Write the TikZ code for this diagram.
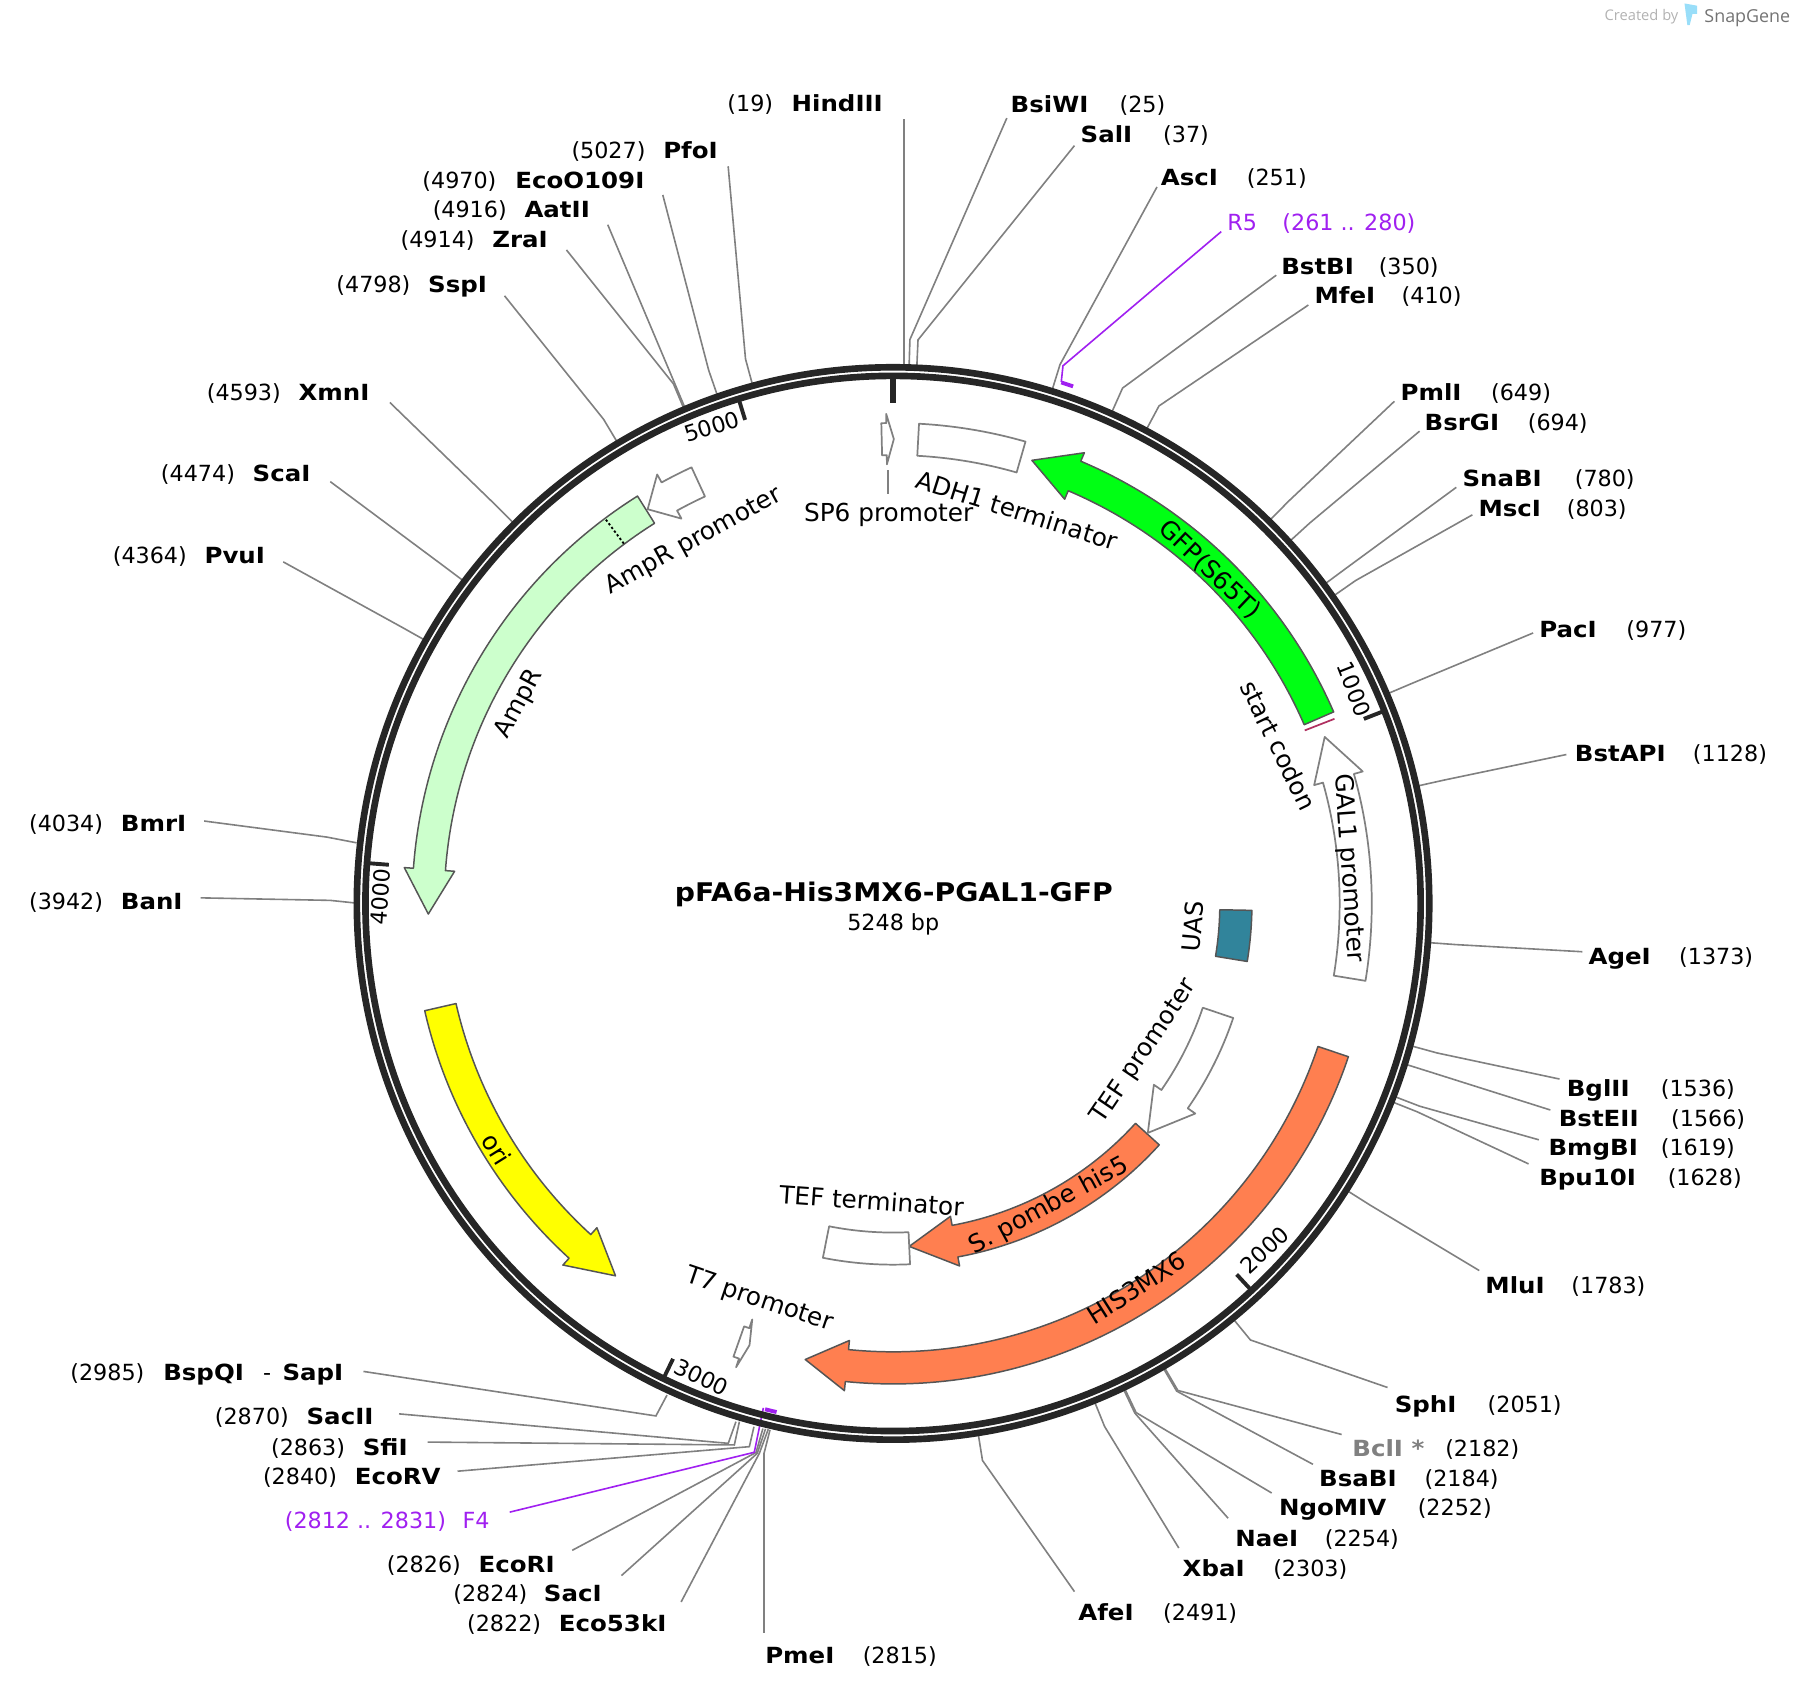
\documentclass[tikz,border=0pt]{standalone}
\usepackage{fontspec}
\setmainfont{DejaVu Sans}[BoldFeatures={FakeStretch=1.1}]
\newfontfamily\logofont{Open Sans}
\usetikzlibrary{arrows.meta}
\definecolor{ringgray}{RGB}{38,38,38}
\definecolor{leadgray}{RGB}{128,128,128}
\definecolor{edgegray}{RGB}{85,85,85}
\definecolor{primerpurple}{RGB}{160,32,240}
\definecolor{codonmaroon}{RGB}{176,48,96}
\definecolor{amprgreen}{RGB}{204,255,204}
\definecolor{gfpgreen}{RGB}{0,255,20}
\definecolor{oriyellow}{RGB}{255,255,0}
\definecolor{coral}{RGB}{255,127,80}
\definecolor{uasteal}{RGB}{49,132,155}
\tikzset{
  plasmid/.style={shift={(778.8,787.9)}},
  enz/.style={anchor=base west,inner sep=0pt,font=\fontsize{9.7}{11}\selectfont\bfseries},
  posn/.style={anchor=base west,inner sep=0pt,font=\fontsize{9.7}{11}\selectfont},
  lead/.style={draw=leadgray,line width=0.7pt},
  primer/.style={draw=primerpurple,line width=0.7pt},
  feature/.style={draw=edgegray,line width=0.65pt,line join=round},
  blank/.style={draw=leadgray,line width=0.75pt,fill=white,line join=round},
  lab/.style={inner sep=0pt,font=\fontsize{10.8}{12}\selectfont},
  numlab/.style={inner sep=0pt,font=\fontsize{9.7}{11}\selectfont},
  scalemark/.style={draw=ringgray,line width=1.7pt},
}
% site with its line leaving the ring along the radius
\newcommand{\site}[7]{%
  \pgfmathsetmacro{\ang}{#6/5248*360-90}
  \node[enz] (#1) at (#2,#4+7) {#5};
  \node[posn] (#1pos) at (#3,#4+7) {(#6)};
  \coordinate (#1end) at #7;
  \coordinate (#1bend) at ([plasmid]\ang:492);
  \coordinate (#1ring) at ([plasmid]\ang:469);
  \draw[lead] (#1end) -- (#1bend) -- (#1ring);
}
% same, for the crowded ones: bend and ring point given
\newcommand{\sitexy}[9]{%
  \node[enz] (#1) at (#2,#4+7) {#5};
  \node[posn] (#1pos) at (#3,#4+7) {(#6)};
  \coordinate (#1end) at #7;
  \coordinate (#1bend) at #8;
  \coordinate (#1ring) at #9;
  \draw[lead] (#1end) -- (#1bend) -- (#1ring);
}
% start, back of head, tip (degrees from the top), mid radius, look
\newcommand{\gene}[5]{%
  \draw[#5] ({#1-90}:{#4+14}) arc[start angle={#1-90},end angle={#2-90},radius={#4+14}]
    -- ({#2-90}:{#4+22}) -- ({#3-90}:#4) -- ({#2-90}:{#4-22}) -- ({#2-90}:{#4-14})
    arc[start angle={#2-90},end angle={#1-90},radius={#4-14}] -- cycle;
}
\newcommand{\block}[4]{%
  \draw[#4] ({#1-90}:{#3+14}) arc[start angle={#1-90},end angle={#2-90},radius={#3+14}]
    -- ({#2-90}:{#3-14}) arc[start angle={#2-90},end angle={#1-90},radius={#3-14}] -- cycle;
}
\begin{document}
\begin{tikzpicture}[x=0.5pt,y=-0.5pt]
    \useasboundingbox (0,0) rectangle (1568,1475.5);
    % logo
    \node[anchor=base west,inner sep=0pt,text=black!30,font=\logofont\fontsize{6.4}{8}\selectfont] (createdby) at (1399,18) {Created by};
    \node[anchor=base west,inner sep=0pt,text=black!55,font=\logofont\fontsize{7.8}{10}\selectfont] (snapgene) at (1486,20) {SnapGene};
    \fill[cyan!40] (1469,3) -- (1480,5) -- (1480,12) -- (1476,12) -- (1473.5,22) -- (1471.5,22) -- cycle;
    % top, clockwise
    \sitexy{hindIII}{690}{634}{90}{HindIII}{19}{(788.4,104)}{(788.4,296)}{(788.4,320)}
    \site{bsiWI}{881}{976}{91}{BsiWI}{25}{(878,103)}
    \site{salI}{942}{1014}{117}{SalI}{37}{(937,127)}
    \site{ascI}{1012}{1087}{155}{AscI}{251}{(1009,163)}
    \site{bstBI}{1117}{1202}{232}{BstBI}{350}{(1113,240)}
    \site{mfeI}{1146}{1222}{258}{MfeI}{410}{(1141,266)}
    \site{pmlI}{1221}{1300}{342}{PmlI}{649}{(1216,350)}
    \site{bsrGI}{1242}{1332}{368}{BsrGI}{694}{(1238,376)}
    \site{snaBI}{1275}{1373}{417}{SnaBI}{780}{(1270,425)}
    \site{mscI}{1289}{1366}{443}{MscI}{803}{(1284,449)}
    \site{pacI}{1342}{1418}{549}{PacI}{977}{(1337,552)}
    \site{bstAPI}{1373}{1476}{657}{BstAPI}{1128}{(1366,658)}
    \site{ageI}{1385}{1464}{834}{AgeI}{1373}{(1380,830)}
    \site{bglII}{1366}{1448}{949}{BglII}{1536}{(1360,941)}
    \site{bstEII}{1359}{1457}{975}{BstEII}{1566}{(1352,968)}
    \site{bmgBI}{1350}{1448}{1001}{BmgBI}{1619}{(1342,994)}
    \site{bpuI}{1342}{1454}{1027}{Bpu10I}{1628}{(1333,1015)}
    \site{mluI}{1295}{1370}{1121}{MluI}{1783}{(1290,1108)}
    \site{sphI}{1216}{1297}{1225}{SphI}{2051}{(1210,1210)}
    \site{bclI}{1179}{1260}{1263}{\textcolor{leadgray}{BclI *}}{2182}{(1170,1251)}
    \site{bsaBI}{1150}{1242}{1289}{BsaBI}{2184}{(1145,1277)}
    \site{ngoMIV}{1115}{1236}{1315}{NgoMIV}{2252}{(1109,1302)}
    \site{naeI}{1077}{1155}{1342}{NaeI}{2254}{(1071,1324)}
    \site{xbaI}{1031}{1110}{1368}{XbaI}{2303}{(1028,1350)}
    \site{afeI}{940}{1014}{1406}{AfeI}{2491}{(937,1388)}
    % the crowd at the bottom
    \sitexy{pmeI}{667}{752}{1444}{PmeI}{2815}{(666.3,1424)}{(666.3,1267.4)}{(671.5,1247)}
    \sitexy{ecoFiveThree}{487}{407}{1416}{Eco53kI}{2822}{(594,1397)}{(662.2,1267.4)}{(670,1246.4)}
    \sitexy{sacI}{474}{395}{1390}{SacI}{2824}{(542,1374)}{(660.4,1267.4)}{(667.6,1246)}
    \sitexy{ecoRI}{417}{337}{1364}{EcoRI}{2826}{(499,1352)}{(659.3,1266.7)}{(665.3,1245.8)}
    \sitexy{ecoRV}{309}{229}{1288}{EcoRV}{2840}{(399,1283)}{(653.5,1261.6)}{(657.5,1244.2)}
    \sitexy{sfiI}{316}{236}{1262}{SfiI}{2863}{(373,1257.6)}{(640.4,1260.1)}{(644.8,1239.8)}
    \sitexy{sacII}{267}{187}{1235}{SacII}{2870}{(348,1233)}{(635.1,1258.7)}{(641.8,1239.8)}
    \sitexy{bspQI}{142}{61}{1197}{BspQI}{2985}{(317,1196)}{(572,1234.8)}{(581.7,1216.6)}
    \node[posn] (dashsap) at (229,1204) {-};
    \node[enz] (sapI) at (246,1204) {SapI};
    % left side
    \sitexy{banI}{105}{25}{786}{BanI}{3942}{(175,783)}{(288,785.2)}{(310,787.5)}
    \sitexy{bmrI}{105}{25}{718}{BmrI}{4034}{(178,716)}{(285,730)}{(311,735)}
    \site{pvuI}{178}{98}{484}{PvuI}{4364}{(247,490)}
    \site{scaI}{220}{140}{413}{ScaI}{4474}{(288,420)}
    \site{xmnI}{260}{180}{342}{XmnI}{4593}{(340,351)}
    \site{sspI}{373}{293}{248}{SspI}{4798}{(440,258)}
    \site{zraI}{429}{349}{209}{ZraI}{4914}{(494,218)}
    \site{aatII}{457}{377}{183}{AatII}{4916}{(530,196)}
    \site{ecoO}{449}{368}{157}{EcoO109I}{4970}{(578,170)}
    \site{pfoI}{578}{498}{131}{PfoI}{5027}{(635,145)}
    % primers
    \node[posn,text=primerpurple] (rfive) at (1070,201) {R5};
    \node[posn,text=primerpurple] (rfivepos) at (1118,201) {(261 .. 280)};
    \coordinate (rfiveend) at (1065,202);
    \coordinate (rfivebend) at (927,319);
    \coordinate (rfivebar) at (925.5,333);
    \draw[primer] (rfiveend) -- (rfivebend) -- (rfivebar);
    \node[posn,text=primerpurple] (ffour) at (403,1333) {F4};
    \node[posn,text=primerpurple] (ffourpos) at (248,1333) {(2812 .. 2831)};
    \coordinate (ffourend) at (444.5,1318.7);
    \coordinate (ffourbend) at (657.8,1266.5);
    \coordinate (ffourbar) at (665.7,1227.8);
    \draw[primer] (ffourend) -- (ffourbend) -- (ffourbar);
    \begin{scope}[plasmid]
        \draw[primerpurple,line width=1.7pt] (-72.1:477.5) arc[start angle=-72.1,end angle=-70.8,radius=477.5];
        \draw[primerpurple,line width=1.7pt] (102.9:455) arc[start angle=102.9,end angle=104.2,radius=455];
        % backbone
        \draw[ringgray,line width=2.9pt] (0,0) circle[radius=467.6];
        \draw[ringgray,line width=2.9pt] (0,0) circle[radius=460.1];
        \draw[scalemark,line width=2.6pt] (-90:458) -- (-90:436.5);
        \foreach \p in {1000,2000,3000,4000,5000} {
            \pgfmathsetmacro{\ang}{\p/5248*360-90}
            \draw[scalemark] (\ang:458) -- (\ang:441);
        }
        % outer track
        \gene{66.5}{23}{17.4}{405}{feature,fill=gfpgreen}
        \block{3.1}{16}{405}{blank}
        \gene{-1.4}{-0.8}{0.1}{405}{blank}
        \gene{99.3}{74.3}{68.9}{403.5}{blank}
        \gene{108.6}{185.7}{190.9}{405}{feature,fill=coral}
        \gene{199.4}{198.7}{198}{405}{blank}
        \gene{-102.9}{-137.6}{-143.3}{405}{feature,fill=oriyellow}
        \gene{-32.1}{-85.8}{-91.3}{405.4}{feature,fill=amprgreen}
        \gene{-24.8}{-28.8}{-31.9}{405}{blank}
        \draw[black,line width=0.8pt,dash pattern=on 1pt off 1pt] (-126.8:392) -- (-126.8:418);
        % inner track
        \gene{132.2}{169.6}{177.3}{299.4}{feature,fill=coral}
        \gene{108.6}{124.8}{132}{299}{blank}
        \block{177.3}{191.2}{301}{blank}
        \block{91.1}{99.3}{299}{feature,fill=uasteal}
        % start codon
        \draw[codonmaroon,line width=0.75pt] (-22.8:389.5) -- (-22.7:417.3);
    \end{scope}
    \coordinate (spsixtop) at (774.6,410);
    \coordinate (spsixbot) at (774.6,431);
    \draw[lead,line width=0.75pt] (spsixtop) -- (spsixbot);
    % scale numbers
    \node[numlab,rotate=-68.6] (numone) at (1181,601) {1000};
    \node[numlab,rotate=42.8] (numtwo) at (1103,1090) {2000};
    \node[numlab,rotate=-25.8] (numthree) at (612,1201) {3000};
    \node[numlab,rotate=85.7] (numfour) at (332,782) {4000};
    \node[numlab,rotate=17] (numfive) at (621,372) {5000};
    % feature names
    \node[lab,rotate=-43.5] (gfplab) at (1055,497) {GFP(S65T)};
    \node[lab,rotate=-17.5] (adhlab) at (887,445) {ADH1 terminator};
    \node[lab] (spsixlab) at (775,449) {SP6 promoter};
    \node[lab,rotate=-64] (codonlab) at (1115,650) {start codon};
    \node[lab,rotate=-86] (gallab) at (1176,757) {GAL1 promoter};
    \node[lab,rotate=85] (uaslab) at (1040.5,808) {UAS};
    \node[lab,rotate=56] (teflab) at (998,917) {TEF promoter};
    \node[lab,rotate=28.5] (pombelab) at (915,1052) {S. pombe his5};
    \node[lab,rotate=32.4] (hislab) at (991,1123) {HIS3MX6};
    \node[lab,rotate=-4] (termlab) at (760,1047) {TEF terminator};
    \node[lab,rotate=-18.7] (tsevenlab) at (662,1134) {T7 promoter};
    \node[lab,rotate=-58] (orilab) at (433,1002) {ori};
    \node[lab,rotate=62] (amplab) at (453,614) {AmpR};
    \node[lab,rotate=28.8] (amppromlab) at (605,472) {AmpR promoter};
    % title
    \node[inner sep=0pt,font=\fontsize{11.2}{14}\selectfont\bfseries] (title) at (779.5,780) {pFA6a-His3MX6-PGAL1-GFP};
    \node[numlab] (size) at (779,806) {5248 bp};
\end{tikzpicture}
\end{document}
